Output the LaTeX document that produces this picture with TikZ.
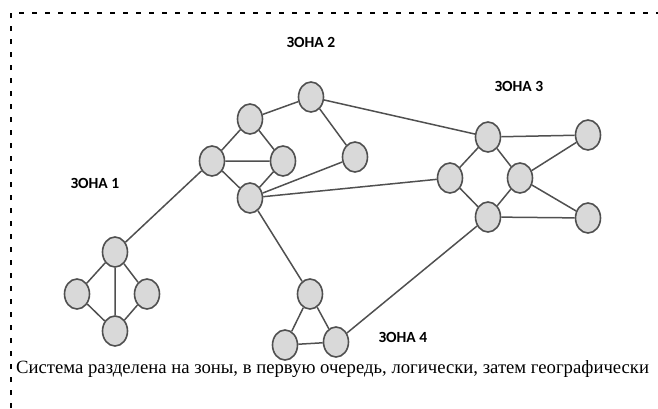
\documentclass[tikz,border=0pt]{standalone}
\usepackage{fontspec}
\setmainfont{Liberation Serif}
\newfontfamily\zonefont{Carlito}
\usetikzlibrary{shapes.geometric}
\definecolor{nodefill}{HTML}{D9D9D9}
\definecolor{edgegray}{HTML}{505050}
\tikzset{
  host/.style={ellipse, draw=edgegray, fill=nodefill, line width=1.6pt,
    minimum width=25pt, minimum height=30pt, inner sep=0pt},
  link/.style={draw=edgegray, line width=1.5pt},
  zonelabel/.style={font=\zonefont\bfseries\fontsize{15.5}{17}\selectfont, inner sep=0pt},
  frameline/.style={line width=1.4pt, dash pattern=on 5pt off 8pt}
}
\begin{document}
\begin{tikzpicture}[x=1pt,y=-1pt]
\useasboundingbox (0,0) rectangle (658,408);
% dashed frame (top and left edges)
\coordinate (fl) at (11,408);
\coordinate (ft) at (11,13);
\coordinate (fr) at (658,13);
\draw[frameline] (fl) -- (ft) -- (fr);

% zone 2
\node[host] (a) at (311,97) {};
\node[host] (b) at (250,119) {};
\node[host] (c) at (212,161) {};
\node[host] (d) at (283,161) {};
\node[host] (e) at (250,198) {};
\node[host] (f) at (355,157) {};
% zone 3
\node[host] (g) at (488,137) {};
\node[host] (h) at (450,178) {};
\node[host] (i) at (520,178) {};
\node[host] (j) at (488,217) {};
\node[host] (k) at (588,135) {};
\node[host] (l) at (588,218) {};
% zone 1
\node[host] (m) at (115,252) {};
\node[host] (n) at (77,294) {};
\node[host] (o) at (147,294) {};
\node[host] (p) at (115,331) {};
% zone 4
\node[host] (q) at (310,294) {};
\node[host] (r) at (285,345) {};
\node[host] (s) at (336,342) {};

% connections
\path[link] (b) -- (a) (b) -- (c) (b) -- (d) (c) -- (d) (c) -- (e) (d) -- (e)
  (a) -- (f) (f) -- (e) (e) -- (h) (a) -- (g) (c) -- (m) (e) -- (q);
\path[link] (g) -- (k) (g) -- (h) (g) -- (i) (h) -- (j) (i) -- (j)
  (i) -- (k) (i) -- (l) (j) -- (l) (j) -- (s);
\path[link] (m) -- (n) (m) -- (o) (m) -- (p) (n) -- (p) (o) -- (p);
\path[link] (q) -- (r) (q) -- (s) (r) -- (s);

% zone labels
\node[zonelabel] (z1) at (95,183) {ЗОНА 1};
\node[zonelabel] (z2) at (311,42) {ЗОНА 2};
\node[zonelabel] (z3) at (519,86) {ЗОНА 3};
\node[zonelabel] (z4) at (403,337) {ЗОНА 4};

% caption
\node[anchor=west, inner sep=0pt, font=\fontsize{18.7}{20}\selectfont] (cap) at (16,369)
  {Система разделена на зоны, в первую очередь, логически, затем географически};
\end{tikzpicture}
\end{document}
